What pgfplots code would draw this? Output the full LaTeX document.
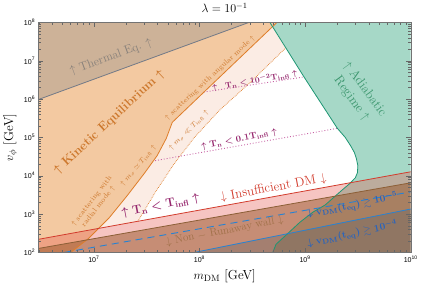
\documentclass[border=0pt]{standalone}
\usepackage{amsmath,amssymb}
\usepackage{fontspec}
\usepackage{pgfplots}
\pgfplotsset{compat=1.18}
\newfontfamily\ticksf{Liberation Sans}
\definecolor{kin}{RGB}{243,201,161}
\definecolor{kinline}{RGB}{222,125,40}
\definecolor{peach}{RGB}{251,236,228}
\definecolor{therm}{RGB}{205,178,152}
\definecolor{thermline}{RGB}{115,122,135}
\definecolor{adia}{RGB}{166,216,199}
\definecolor{adialine}{RGB}{30,150,115}
\definecolor{redl}{RGB}{210,60,45}
\definecolor{redf}{RGB}{230,90,80}
\definecolor{brownl}{RGB}{140,95,55}
\definecolor{brownf}{RGB}{150,85,40}
\definecolor{bluel}{RGB}{40,130,210}
\definecolor{purp}{RGB}{150,40,110}
\definecolor{purpl}{RGB}{200,100,165}
\definecolor{kintext}{RGB}{205,120,45}
\definecolor{adiatext}{RGB}{60,150,110}
\definecolor{thermtext}{RGB}{135,128,122}
\definecolor{nrtext}{RGB}{160,112,72}
\definecolor{bluetext}{RGB}{40,100,190}
\begin{document}
\begin{tikzpicture}
\begin{axis}[
  width=369bp, height=228bp, scale only axis,
  xmode=log, ymode=log,
  xmin=3e6, xmax=1e10, ymin=1e2, ymax=1e8,
  axis on top,
  axis line style={black!55},
  tick style={black!60},
  xticklabel={\pgfmathtruncatemacro\e{round(\tick/ln(10))}\ticksf\fontsize{7}{8}\selectfont 10\textsuperscript{\e}},
  yticklabel={\pgfmathtruncatemacro\e{round(\tick/ln(10))}\ticksf\fontsize{7}{8}\selectfont 10\textsuperscript{\e}},
  title={$\lambda = 10^{-1}$},
  title style={font=\fontsize{12}{14}\selectfont},
  xlabel={$m_{\rm DM}$ [GeV]}, ylabel={$v_\phi$ [GeV]},
  label style={font=\fontsize{13}{15}\selectfont},
]
% Adiabatic region
\addplot[fill=adia, draw=none] coordinates {
 (4.65e8,1e8) (9.77e8,3.79e6) (2.02e9,1.73e5) (2.40e9,1e5) (2.69e9,6.15e4)
 (2.93e9,4.03e4) (3.06e9,2.80e4) (3.16e9,1.83e4) (3.13e9,1.2e4) (2.99e9,8.85e3)
 (2.63e9,6.15e3) (2.25e9,4.28e3) (1.89e9,2.80e3) (1.55e9,1.73e3) (1.19e9,1.13e3)
 (8.95e8,615) (6.74e8,298) (5.30e8,162) (4.95e8,100) (1e10,100) (1e10,1e8)};
% Kinetic equilibrium region
\addplot[fill=kin, draw=none] coordinates {
 (3e6,100) (6.04e6,100) (8.95e6,233) (1.39e7,785) (2.06e7,2980) (2.99e7,1.13e4)
 (3.98e7,3.36e4) (4.85e7,9.42e4) (5.53e7,2.48e5) (5.41e8,1e8) (3e6,1e8)};
% m_sigma << T_infl region
\addplot[fill=peach, draw=none] coordinates {
 (1.117e7,425) (1.39e7,785) (2.06e7,2980) (2.99e7,1.13e4) (3.98e7,3.36e4)
 (4.85e7,9.42e4) (5.53e7,2.48e5) (4.92e8,7.8e7) (6.59e8,2.2e7) (2.99e8,2.64e6)
 (1.55e8,5.14e5) (8.95e7,1e5) (5.78e7,2.07e4) (3.89e7,4.03e3) (2.62e7,655)};
% Thermal equilibrium region
\addplot[fill=therm, draw=none] coordinates {(3e6,9.8e5) (2.93e8,1e8) (3e6,1e8)};
% dotted lines
\addplot[kinline, densely dotted, line width=0.7pt] coordinates {
 (6.59e8,2.2e7) (2.99e8,2.64e6) (1.55e8,5.14e5) (8.95e7,1e5) (5.78e7,2.07e4)
 (3.89e7,4.03e3) (2.62e7,655)};
\addplot[purpl, dotted, line width=0.9pt] coordinates {(1.10e8,1.53e6) (9.89e8,3.80e6)};
\addplot[purpl, dotted, line width=0.9pt] coordinates {(3.81e7,2.48e4) (2.02e9,1.73e5)};
% bands
\addplot[fill=redf, fill opacity=0.35, draw=none] coordinates {(3e6,100) (3e6,220) (1e10,1.27e4) (1e10,100)};
\addplot[fill=brownf, fill opacity=0.5, draw=none] coordinates {(3e6,100) (3e6,127) (1e10,6.55e3) (1e10,100)};
\addplot[fill=black!60, fill opacity=0.35, draw=none] coordinates {(8.95e7,100) (1e10,1.355e3) (1e10,100)};
% lines
\addplot[thermline, line width=0.8pt] coordinates {(3e6,9.8e5) (2.93e8,1e8)};
\addplot[kinline, line width=0.8pt] coordinates {
 (6.04e6,100) (8.95e6,233) (1.39e7,785) (2.06e7,2980) (2.99e7,1.13e4)
 (3.98e7,3.36e4) (4.85e7,9.42e4) (5.53e7,2.48e5) (5.41e8,1e8)};
\addplot[adialine, line width=0.8pt] coordinates {
 (4.65e8,1e8) (9.77e8,3.79e6) (2.02e9,1.73e5) (2.40e9,1e5) (2.69e9,6.15e4)
 (2.93e9,4.03e4) (3.06e9,2.80e4) (3.16e9,1.83e4) (3.13e9,1.2e4) (2.99e9,8.85e3)
 (2.63e9,6.15e3) (2.25e9,4.28e3) (1.89e9,2.80e3) (1.55e9,1.73e3) (1.19e9,1.13e3)
 (8.95e8,615) (6.74e8,298) (5.30e8,162) (4.95e8,100)};
\addplot[redl, line width=0.8pt] coordinates {(3e6,220) (1e10,1.27e4)};
\addplot[brownl, line width=0.8pt] coordinates {(3e6,127) (1e10,6.55e3)};
\addplot[bluel, line width=0.9pt, dash pattern=on 7pt off 5pt] coordinates {(5.25e6,100) (1e10,3.79e3)};
\addplot[bluel, line width=0.8pt] coordinates {(8.95e7,100) (1e10,1.355e3)};
% labels
\node[thermtext, rotate=20, font=\fontsize{12}{14}\selectfont] at (rel axis cs:0.195,0.850) {$\uparrow$ Thermal Eq. $\uparrow$};
\node[kintext, rotate=43, font=\fontsize{12.5}{14}\selectfont\bfseries] at (rel axis cs:0.190,0.566) {$\boldsymbol{\uparrow}$ Kinetic Equilibrium $\boldsymbol{\uparrow}$};
\node[kintext, rotate=43, font=\fontsize{7.2}{8}\selectfont] at (rel axis cs:0.461,0.759) {$\uparrow$ scattering with angular mode $\uparrow$};
\node[kintext, rotate=52, align=center, font=\fontsize{7.2}{8.5}\selectfont] at (rel axis cs:0.152,0.211) {$\uparrow$ scattering with\\radial mode $\uparrow$};
\node[kintext, rotate=50, font=\fontsize{7}{8}\selectfont] at (rel axis cs:0.268,0.377) {$\uparrow m_\sigma \simeq T_{\rm infl}$ $\uparrow$};
\node[kintext, rotate=45, font=\fontsize{7}{8}\selectfont] at (rel axis cs:0.404,0.531) {$\uparrow m_\sigma \ll T_{\rm infl}$ $\uparrow$};
\node[purp, rotate=10, font=\fontsize{8.5}{10}\selectfont\boldmath] at (rel axis cs:0.588,0.750) {$\uparrow \mathbf{T_n} < \mathbf{10^{-2}T_{infl}} \uparrow$};
\node[purp, rotate=11, font=\fontsize{9}{10}\selectfont\boldmath] at (rel axis cs:0.539,0.491) {$\uparrow \mathbf{T_n} < \mathbf{0.1T_{infl}} \uparrow$};
\node[purp, rotate=11, font=\fontsize{12}{14}\selectfont\boldmath] at (rel axis cs:0.328,0.202) {$\uparrow \mathbf{T_n} < \mathbf{T_{infl}} \uparrow$};
\node[redl, rotate=10.5, font=\fontsize{13}{15}\selectfont] at (rel axis cs:0.631,0.281) {$\downarrow$ Insufficient DM $\downarrow$};
\node[adiatext, rotate=-54, align=center, font=\fontsize{13}{16}\selectfont] at (rel axis cs:0.859,0.689) {$\uparrow$ Adiabatic\\Regime $\uparrow$};
\node[nrtext, rotate=11, font=\fontsize{11}{13}\selectfont] at (rel axis cs:0.500,0.092) {$\downarrow$ Non $-$ Runaway wall $\downarrow$};
\node[bluetext, rotate=11, font=\fontsize{10}{12}\selectfont\boldmath] at (rel axis cs:0.843,0.204) {$\downarrow \mathbf{v_{DM}(t_{eq})} \gtrsim \mathbf{10^{-5}}$};
\node[bluetext, rotate=12, font=\fontsize{10}{12}\selectfont\boldmath] at (rel axis cs:0.843,0.080) {$\downarrow \mathbf{v_{DM}(t_{eq})} \gtrsim \mathbf{10^{-4}}$};
\end{axis}
\end{tikzpicture}
\end{document}
